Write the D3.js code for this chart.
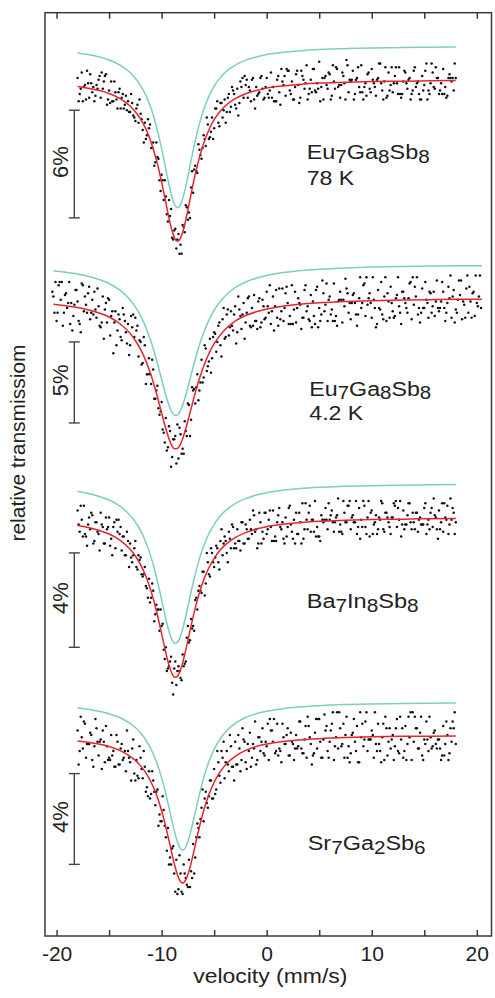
<!DOCTYPE html>
<html>
<head>
<meta charset="utf-8">
<script src="https://cdn.jsdelivr.net/npm/d3@7"></script>
<style>
  body { margin: 0; background: #fff; }
  svg { display: block; font-family: "Liberation Sans", Arial, Helvetica, sans-serif; }
</style>
</head>
<body>
<svg width="495" height="998"></svg>
<script>
// ---- data (relative transmission in %, velocity in mm/s) ----
var xTicks = [-20, -15, -10, -5, 0, 5, 10, 15, 20];
var xLabels = [-20, -10, 0, 10, 20];

var sampleNames = [
  [["Eu", 0], ["7", 1], ["Ga", 0], ["8", 1], ["Sb", 0], ["8", 1]],
  [["Eu", 0], ["7", 1], ["Ga", 0], ["8", 1], ["Sb", 0], ["8", 1]],
  [["Ba", 0], ["7", 1], ["In", 0], ["8", 1], ["Sb", 0], ["8", 1]],
  [["Sr", 0], ["7", 1], ["Ga", 0], ["2", 1], ["Sb", 0], ["6", 1]]
];
var temperatures = ["78 K", "4.2 K", "", ""];
var scaleBarPct = [6, 5, 4, 4];
var scaleBarTop = [98.3, 97.3, 98.5, 98.3];

// fitted curves
var fitVel = [-18,-17,-16,-15,-14,-13,-12.5,-12,-11.5,-11,-10.5,-10,-9.75,-9.5,-9.25,-9,-8.75,-8.5,-8.25,-8,
  -7.75,-7.5,-7.25,-7,-6.5,-6,-5.5,-5,-4.5,-4,-3,-2,-1,0,1.5,3,5,7.5,10,13,15.5,18];
var fitVel2 = [-20.3,-19,-18,-17,-16,-15,-14,-13,-12.5,-12,-11.5,-11,-10.5,-10,-9.75,-9.5,-9.25,-9,-8.75,-8.5,-8.25,-8,
  -7.75,-7.5,-7.25,-7,-6.5,-6,-5.5,-5,-4.5,-4,-3,-2,-1,0,1.5,3,5,7.5,10,13,15.5,18,20.5];

var fit78K = [99.62,99.53,99.41,99.23,98.96,98.53,98.21,97.80,97.26,96.52,95.54,94.30,93.59,92.86,92.16,91.57,
  91.16,91.00,91.12,91.49,92.06,92.74,93.47,94.19,95.45,96.45,97.20,97.77,98.19,98.51,98.94,99.22,99.40,99.53,
  99.65,99.73,99.81,99.86,99.90,99.92,99.94,99.95];
var fit42K = [99.62,99.52,99.42,99.29,99.10,98.84,98.44,97.83,97.39,96.84,96.13,95.24,94.15,92.92,92.30,91.72,
  91.23,90.87,90.70,90.72,90.93,91.32,91.83,92.42,93.05,93.67,94.83,95.80,96.58,97.19,97.66,98.04,98.58,98.93,
  99.16,99.33,99.51,99.62,99.72,99.80,99.85,99.89,99.91,99.93,99.94];
var fitBa = [99.66,99.58,99.46,99.30,99.05,98.65,98.37,98.00,97.51,96.87,96.05,95.08,94.57,94.08,93.67,93.37,
  93.23,93.27,93.48,93.84,94.29,94.79,95.30,95.79,96.66,97.35,97.87,98.27,98.58,98.82,99.15,99.36,99.51,99.61,
  99.71,99.78,99.84,99.88,99.91,99.93,99.95,99.96];
var fitSr = [99.74,99.68,99.60,99.49,99.32,99.06,98.88,98.64,98.33,97.92,97.38,96.66,96.23,95.75,95.25,94.73,
  94.25,93.85,93.58,93.48,93.58,93.85,94.25,94.73,95.75,96.66,97.38,97.92,98.33,98.64,99.06,99.32,99.49,99.60,
  99.71,99.78,99.84,99.89,99.92,99.94,99.95,99.96];

// measured points, channel velocities (two interleaved sets)
var dotVel = [-18,-17.8,-17.6,-17.4,-17.2,-17,-16.8,-16.6,-16.4,-16.2,
  -16,-15.8,-15.6,-15.4,-15.2,-15,-14.8,-14.6,-14.4,-14.2,
  -14,-13.8,-13.6,-13.4,-13.2,-13,-12.8,-12.6,-12.4,-12.2,
  -12,-11.8,-11.6,-11.4,-11.2,-11,-10.8,-10.6,-10.4,-10.2,
  -10,-9.8,-9.6,-9.4,-9.2,-9,-8.8,-8.6,-8.4,-8.2,
  -8,-7.8,-7.6,-7.4,-7.2,-7,-6.8,-6.6,-6.4,-6.2,
  -6,-5.8,-5.6,-5.4,-5.2,-5,-4.8,-4.6,-4.4,-4.2,
  -4,-3.8,-3.6,-3.4,-3.2,-3,-2.8,-2.6,-2.4,-2.2,
  -2,-1.8,-1.6,-1.4,-1.2,-1,-0.8,-0.6,-0.4,-0.2,
  0,0.2,0.4,0.6,0.8,1,1.2,1.4,1.6,1.8,
  2,2.2,2.4,2.6,2.8,3,3.2,3.4,3.6,3.8,
  4,4.2,4.4,4.6,4.8,5,5.2,5.4,5.6,5.8,
  6,6.2,6.4,6.6,6.8,7,7.2,7.4,7.6,7.8,
  8,8.2,8.4,8.6,8.8,9,9.2,9.4,9.6,9.8,
  10,10.2,10.4,10.6,10.8,11,11.2,11.4,11.6,11.8,
  12,12.2,12.4,12.6,12.8,13,13.2,13.4,13.6,13.8,
  14,14.2,14.4,14.6,14.8,15,15.2,15.4,15.6,15.8,
  16,16.2,16.4,16.6,16.8,17,17.2,17.4,17.6,17.8,
  18];
var dotVelB = [-17.9,-17.7,-17.5,-17.3,-17.1,-16.9,-16.7,-16.5,-16.3,-16.1,
  -15.9,-15.7,-15.5,-15.3,-15.1,-14.9,-14.7,-14.5,-14.3,-14.1,
  -13.9,-13.7,-13.5,-13.3,-13.1,-12.9,-12.7,-12.5,-12.3,-12.1,
  -11.9,-11.7,-11.5,-11.3,-11.1,-10.9,-10.7,-10.5,-10.3,-10.1,
  -9.9,-9.7,-9.5,-9.3,-9.1,-8.9,-8.7,-8.5,-8.3,-8.1,
  -7.9,-7.7,-7.5,-7.3,-7.1,-6.9,-6.7,-6.5,-6.3,-6.1,
  -5.9,-5.7,-5.5,-5.3,-5.1,-4.9,-4.7,-4.5,-4.3,-4.1,
  -3.9,-3.7,-3.5,-3.3,-3.1,-2.9,-2.7,-2.5,-2.3,-2.1,
  -1.9,-1.7,-1.5,-1.3,-1.1,-0.9,-0.7,-0.5,-0.3,-0.1,
  0.1,0.3,0.5,0.7,0.9,1.1,1.3,1.5,1.7,1.9,
  2.1,2.3,2.5,2.7,2.9,3.1,3.3,3.5,3.7,3.9,
  4.1,4.3,4.5,4.7,4.9,5.1,5.3,5.5,5.7,5.9,
  6.1,6.3,6.5,6.7,6.9,7.1,7.3,7.5,7.7,7.9,
  8.1,8.3,8.5,8.7,8.9,9.1,9.3,9.5,9.7,9.9,
  10.1,10.3,10.5,10.7,10.9,11.1,11.3,11.5,11.7,11.9,
  12.1,12.3,12.5,12.7,12.9,13.1,13.3,13.5,13.7,13.9,
  14.1,14.3,14.5,14.7,14.9,15.1,15.3,15.5,15.7,15.9,
  16.1,16.3,16.5,16.7,16.9,17.1,17.3,17.5,17.7,17.9];
var dotVel2 = [-20.4,-20.2,-20,-19.8,-19.6,-19.4,-19.2,-19,-18.8,-18.6,
  -18.4,-18.2,-18,-17.8,-17.6,-17.4,-17.2,-17,-16.8,-16.6,
  -16.4,-16.2,-16,-15.8,-15.6,-15.4,-15.2,-15,-14.8,-14.6,
  -14.4,-14.2,-14,-13.8,-13.6,-13.4,-13.2,-13,-12.8,-12.6,
  -12.4,-12.2,-12,-11.8,-11.6,-11.4,-11.2,-11,-10.8,-10.6,
  -10.4,-10.2,-10,-9.8,-9.6,-9.4,-9.2,-9,-8.8,-8.6,
  -8.4,-8.2,-8,-7.8,-7.6,-7.4,-7.2,-7,-6.8,-6.6,
  -6.4,-6.2,-6,-5.8,-5.6,-5.4,-5.2,-5,-4.8,-4.6,
  -4.4,-4.2,-4,-3.8,-3.6,-3.4,-3.2,-3,-2.8,-2.6,
  -2.4,-2.2,-2,-1.8,-1.6,-1.4,-1.2,-1,-0.8,-0.6,
  -0.4,-0.2,0,0.2,0.4,0.6,0.8,1,1.2,1.4,
  1.6,1.8,2,2.2,2.4,2.6,2.8,3,3.2,3.4,
  3.6,3.8,4,4.2,4.4,4.6,4.8,5,5.2,5.4,
  5.6,5.8,6,6.2,6.4,6.6,6.8,7,7.2,7.4,
  7.6,7.8,8,8.2,8.4,8.6,8.8,9,9.2,9.4,
  9.6,9.8,10,10.2,10.4,10.6,10.8,11,11.2,11.4,
  11.6,11.8,12,12.2,12.4,12.6,12.8,13,13.2,13.4,
  13.6,13.8,14,14.2,14.4,14.6,14.8,15,15.2,15.4,
  15.6,15.8,16,16.2,16.4,16.6,16.8,17,17.2,17.4,
  17.6,17.8,18,18.2,18.4,18.6,18.8,19,19.2,19.4,
  19.6,19.8,20,20.2,20.4];
var dotVel2B = [-20.3,-20.1,-19.9,-19.7,-19.5,-19.3,-19.1,-18.9,-18.7,-18.5,
  -18.3,-18.1,-17.9,-17.7,-17.5,-17.3,-17.1,-16.9,-16.7,-16.5,
  -16.3,-16.1,-15.9,-15.7,-15.5,-15.3,-15.1,-14.9,-14.7,-14.5,
  -14.3,-14.1,-13.9,-13.7,-13.5,-13.3,-13.1,-12.9,-12.7,-12.5,
  -12.3,-12.1,-11.9,-11.7,-11.5,-11.3,-11.1,-10.9,-10.7,-10.5,
  -10.3,-10.1,-9.9,-9.7,-9.5,-9.3,-9.1,-8.9,-8.7,-8.5,
  -8.3,-8.1,-7.9,-7.7,-7.5,-7.3,-7.1,-6.9,-6.7,-6.5,
  -6.3,-6.1,-5.9,-5.7,-5.5,-5.3,-5.1,-4.9,-4.7,-4.5,
  -4.3,-4.1,-3.9,-3.7,-3.5,-3.3,-3.1,-2.9,-2.7,-2.5,
  -2.3,-2.1,-1.9,-1.7,-1.5,-1.3,-1.1,-0.9,-0.7,-0.5,
  -0.3,-0.1,0.1,0.3,0.5,0.7,0.9,1.1,1.3,1.5,
  1.7,1.9,2.1,2.3,2.5,2.7,2.9,3.1,3.3,3.5,
  3.7,3.9,4.1,4.3,4.5,4.7,4.9,5.1,5.3,5.5,
  5.7,5.9,6.1,6.3,6.5,6.7,6.9,7.1,7.3,7.5,
  7.7,7.9,8.1,8.3,8.5,8.7,8.9,9.1,9.3,9.5,
  9.7,9.9,10.1,10.3,10.5,10.7,10.9,11.1,11.3,11.5,
  11.7,11.9,12.1,12.3,12.5,12.7,12.9,13.1,13.3,13.5,
  13.7,13.9,14.1,14.3,14.5,14.7,14.9,15.1,15.3,15.5,
  15.7,15.9,16.1,16.3,16.5,16.7,16.9,17.1,17.3,17.5,
  17.7,17.9,18.1,18.3,18.5,18.7,18.9,19.1,19.3,19.5,
  19.7,19.9,20.1,20.3];

var dots78K = [100.1,99.2,100.4,99.6,98.9,99.8,100.3,99.3,98.8,99.7,
  100.0,99.0,99.5,100.2,98.6,99.4,99.9,98.8,99.3,98.4,
  99.5,99.0,98.4,99.1,98.8,98.2,98.7,97.9,98.4,97.6,
  98.1,97.2,97.6,96.9,97.3,96.2,96.5,95.4,95.7,94.4,
  94.7,93.3,93.5,92.1,92.4,91.2,91.6,90.6,91.4,90.8,
  91.9,91.5,92.9,92.6,94.0,93.7,95.2,94.8,96.1,95.6,
  96.9,96.3,97.5,96.8,97.9,97.3,98.4,97.6,98.7,97.9,
  98.9,98.2,99.2,98.5,99.4,98.6,99.5,98.7,99.6,99.0,
  99.7,99.0,99.4,100.0,98.9,99.6,99.2,100.1,99.5,99.0,
  100.1,99.0,100.4,99.6,98.8,100.0,99.3,100.6,99.7,99.1,
  100.5,99.4,99.9,98.9,100.3,99.7,99.0,100.2,99.5,100.8,
  99.2,100.0,100.6,99.4,99.8,101.0,99.6,98.9,100.2,99.5,
  100.3,99.1,99.9,100.7,99.6,99.0,100.4,99.8,101.1,99.3,
  99.9,100.5,99.2,100.1,99.6,100.8,98.9,99.8,100.3,99.5,
  100.6,99.8,99.1,100.1,100.9,99.4,99.9,99.0,100.4,99.7,
  99.3,100.2,99.8,100.7,99.0,99.9,100.4,99.5,100.1,99.2,
  100.5,99.6,99.9,98.9,100.2,99.7,100.9,99.4,99.8,100.4,
  99.5,100.1,99.2,99.8,100.6,99.6,99.1,100.3,99.9,99.4,
  100.1];
var dots78Kb = [98.8,99.5,98.8,99.7,100.5,99.0,99.8,99.6,99.1,99.5,
  100.2,100.4,99.9,100.3,98.9,98.7,98.8,99.9,98.9,99.3,
  98.4,99.2,98.6,98.3,98.2,99.2,98.0,97.7,98.6,98.9,
  97.8,96.5,96.7,97.8,97.5,96.2,95.2,96.5,95.6,93.8,
  94.4,94.4,92.5,93.3,92.8,91.1,91.7,91.1,90.3,90.3,
  91.8,93.0,92.2,92.3,94.9,95.0,94.9,96.4,95.8,96.2,
  96.7,97.9,96.7,97.1,96.7,98.4,98.8,97.4,98.7,98.3,
  97.6,99.0,98.2,99.6,99.2,98.4,98.0,99.9,100.1,100.2,
  100.0,99.6,98.8,100.1,98.4,99.1,99.3,100.2,98.9,99.6,
  99.2,99.4,99.0,98.8,98.8,100.2,98.6,99.9,100.2,100.6,
  100.5,99.2,98.9,99.6,100.5,98.7,100.5,100.0,99.8,98.9,
  99.5,99.3,100.6,99.3,99.5,98.8,100.1,100.1,99.7,100.4,
  98.9,100.8,99.5,100.6,99.7,99.7,100.2,98.9,100.8,100.0,
  100.0,98.9,100.0,100.7,99.3,99.3,99.6,99.1,100.4,99.3,
  100.0,99.6,100.0,100.9,99.8,98.9,100.7,99.1,99.4,100.7,
  99.8,100.7,99.2,99.2,99.2,100.5,99.8,100.0,98.9,99.4,
  100.7,99.8,99.2,98.9,99.4,100.5,98.9,99.2,100.9,99.6,
  100.7,100.1,99.4,99.2,99.2,99.0,100.1,100.1,100.1,100.9];
var dots42K = [100.4,99.1,98.6,100.8,99.9,98.3,100.2,99.4,101.0,99.7,
  98.9,100.5,99.8,98.4,100.9,99.2,99.6,100.3,98.7,99.9,
  100.4,98.8,99.5,98.2,100.1,99.3,98.5,99.9,98.9,96.6,
  99.2,98.0,98.7,97.4,99.0,97.9,98.4,97.1,98.2,97.6,
  98.0,96.4,97.3,96.0,97.1,95.3,96.3,94.7,95.6,93.8,
  94.6,92.8,93.6,91.7,92.6,90.8,91.8,90.2,91.3,89.8,
  90.1,91.6,90.7,92.4,91.5,93.4,92.5,94.3,93.5,95.3,
  94.3,96.2,95.1,96.9,95.8,97.5,96.3,97.9,96.7,98.3,
  97.1,98.7,97.5,99.0,97.7,99.2,98.0,99.5,97.9,99.3,
  98.1,99.7,98.5,100.0,98.3,99.4,100.2,98.6,99.8,98.2,
  99.9,98.7,100.4,99.1,98.4,100.1,99.5,98.8,100.6,99.2,
  98.6,100.3,99.7,98.9,100.8,99.3,98.5,100.0,99.6,98.8,
  100.5,99.2,98.7,100.2,99.8,98.4,100.7,99.4,99.0,100.3,
  99.6,98.6,100.1,99.3,100.9,98.9,99.8,100.4,98.5,99.5,
  100.6,99.1,98.7,100.2,99.7,98.3,100.0,99.4,100.8,98.9,
  99.6,100.3,98.8,99.9,98.2,100.5,99.3,99.0,100.1,98.6,
  99.8,100.7,99.2,98.9,100.2,99.5,98.4,100.4,99.7,99.1,
  100.9,98.7,99.6,100.1,99.0,98.5,100.6,99.4,99.9,98.8,
  100.3,99.5,98.9,101.1,99.2,99.8,100.4,98.6,99.7,100.0,
  98.8,100.5,99.3,99.9,100.2,98.7,99.6,100.6,99.1,99.8,
  100.3,98.9,99.7,100.1,99.4];
var dots42Kb = [100.1,101.0,99.1,101.0,101.0,99.1,100.3,99.7,98.4,98.0,
  99.6,100.5,98.6,97.9,100.8,100.1,99.1,100.7,99.1,99.0,
  99.3,100.6,98.3,98.5,97.5,99.7,100.0,97.7,99.2,98.5,
  97.1,99.0,97.6,99.4,98.6,97.2,96.5,98.9,99.0,98.8,
  98.3,97.4,95.9,97.6,94.7,95.3,95.3,96.2,93.8,94.3,
  93.2,93.0,91.9,91.1,90.6,92.1,89.6,91.3,91.5,92.2,
  92.0,90.4,90.4,91.8,93.5,91.5,94.5,94.4,94.5,93.7,
  94.8,94.8,97.1,95.5,96.1,95.4,97.6,97.8,97.3,98.5,
  96.4,99.4,97.6,99.3,98.2,98.3,99.0,97.2,100.1,98.9,
  99.0,97.5,99.1,100.1,98.2,98.3,98.6,98.1,100.0,98.5,
  99.5,98.8,99.5,100.8,99.2,98.0,100.5,98.3,98.7,100.6,
  99.4,100.7,98.4,98.4,98.4,100.4,99.4,99.7,98.1,98.8,
  100.8,99.5,98.6,98.2,98.9,100.5,98.2,98.6,101.1,99.2,
  100.9,99.9,99.0,98.6,98.6,98.3,99.9,99.9,99.9,101.2,
  100.3,99.7,99.7,100.3,99.0,99.0,101.3,99.7,100.9,101.3,
  100.0,99.7,101.3,99.4,98.4,99.4,101.0,98.7,101.3,100.3,
  98.8,99.7,98.8,100.0,101.3,99.1,100.4,100.0,99.4,100.0,
  101.0,101.3,100.7,101.3,99.4,99.1,99.4,101.0,99.7,100.4,
  99.1,100.4,99.8,99.4,99.4,101.0,99.4,99.1,100.7,101.4,
  100.1,98.5,99.1,101.1,101.1,99.8,98.8,101.4,100.7,98.8,
  100.4,101.4,99.5,101.4];
var dotsBa = [100.3,99.4,99.9,100.5,99.2,99.7,99.5,100.1,99.0,99.8,
  99.3,100.2,99.6,98.9,99.5,100.0,99.1,99.6,98.7,99.4,
  99.3,98.6,99.2,98.4,99.0,98.9,98.1,98.7,97.9,98.4,
  98.3,97.5,97.9,97.0,97.4,96.6,96.9,95.9,96.1,95.2,
  95.4,94.4,94.5,93.6,93.9,93.0,93.6,92.9,93.7,93.2,
  94.2,93.8,94.9,94.7,95.7,95.4,96.5,96.1,97.1,96.8,
  97.7,97.2,98.1,97.5,98.5,97.9,98.8,98.1,99.0,98.4,
  99.2,98.5,99.4,98.7,99.6,98.9,99.5,99.0,99.8,98.9,
  99.7,99.1,99.9,99.3,100.1,99.5,98.9,99.8,99.4,100.2,
  99.3,99.9,99.6,100.3,99.2,99.8,100.4,99.5,99.1,100.0,
  99.6,100.5,99.4,99.9,100.2,99.3,99.8,100.6,99.5,99.9,
  100.2,99.4,99.9,100.7,99.6,99.2,100.1,99.8,100.4,99.5,
  99.9,100.3,99.4,100.0,100.8,99.7,99.3,100.2,99.8,100.5,
  99.5,100.1,99.8,99.3,100.4,99.9,100.7,99.6,100.0,99.2,
  100.3,99.7,100.1,99.5,99.9,100.6,99.4,100.2,99.8,99.3,
  100.0,100.5,99.6,99.9,99.2,100.3,99.7,100.1,100.6,99.5,
  99.8,100.2,99.4,100.0,99.7,100.4,99.3,99.9,100.2,99.6,
  100.1,99.5,100.3,99.8,99.4,100.0,100.5,99.7,99.9,100.2,
  99.8];
var dotsBab = [99.7,100.5,99.2,99.3,98.8,100.0,100.2,98.9,99.8,99.4,
  98.6,99.7,98.9,100.0,99.6,98.8,98.4,99.8,99.9,99.9,
  99.6,99.2,98.4,99.4,97.9,98.3,98.4,99.0,97.8,98.2,
  97.6,97.6,97.1,96.6,96.4,97.2,95.6,96.3,96.1,96.1,
  95.5,94.0,93.5,93.7,94.1,92.5,93.9,93.5,93.5,93.1,
  93.7,93.9,95.4,94.8,95.3,95.2,96.6,96.9,96.9,97.7,
  96.7,98.5,97.6,98.7,98.1,98.3,98.7,97.8,99.5,98.9,
  99.0,98.1,99.1,99.7,98.7,98.7,99.0,98.6,99.8,98.9,
  99.5,99.1,99.5,100.3,99.4,98.7,100.2,98.9,99.1,100.2,
  99.5,100.3,99.0,99.0,99.0,100.1,99.6,99.8,98.9,99.2,
  100.4,99.7,99.1,98.9,99.3,100.2,98.9,99.1,100.6,99.5,
  100.5,99.9,99.4,99.2,99.2,99.0,99.9,99.9,99.9,100.6,
  100.1,99.8,99.8,100.1,99.4,99.4,100.7,99.8,100.5,100.7,
  100.0,99.8,100.7,99.6,99.1,99.6,100.5,99.3,100.7,100.2,
  99.3,99.8,99.3,100.0,100.7,99.5,100.2,100.0,99.6,100.0,
  100.6,100.7,100.4,100.7,99.7,99.5,99.7,100.6,99.8,100.2,
  99.5,100.2,99.9,99.7,99.7,100.6,99.7,99.5,100.4,100.8,
  100.0,99.1,99.5,100.6,100.6,99.9,99.3,100.8,100.4,99.3];
var dotsSr = [100.2,99.3,99.9,100.6,99.0,99.6,100.1,98.9,99.5,100.3,
  99.1,99.8,100.2,98.8,99.5,99.0,100.0,99.3,98.6,99.7,
  98.7,99.6,99.0,98.4,99.3,98.8,99.4,98.3,98.9,98.1,
  99.0,98.1,98.6,97.7,98.4,97.4,98.0,96.9,97.6,96.5,
  96.2,96.7,95.5,95.9,94.6,95.0,93.9,94.5,93.2,93.9,
  93.0,93.9,93.4,94.5,94.0,95.2,94.6,96.1,95.5,96.8,
  96.2,97.5,96.8,98.0,97.2,98.5,97.6,98.8,97.9,99.0,
  98.1,99.3,98.4,99.5,98.6,99.7,98.7,99.4,98.9,99.8,
  98.8,99.6,100.1,99.0,99.4,98.7,99.9,99.3,100.3,99.1,
  99.5,98.9,100.2,99.7,99.2,100.5,99.4,98.8,99.9,99.6,
  100.3,99.1,99.7,98.9,100.0,99.5,100.6,99.2,99.8,99.0,
  100.4,99.6,99.1,100.1,99.4,100.7,99.0,99.8,100.2,99.3,
  99.7,100.5,98.9,99.9,99.4,100.3,99.6,99.0,100.8,99.5,
  99.2,100.1,99.7,100.4,98.8,99.9,99.5,100.6,99.3,99.8,
  100.2,99.0,99.6,100.5,99.3,99.9,98.9,100.3,99.7,99.4,
  100.0,99.5,100.7,99.2,99.8,99.0,100.4,99.6,99.9,98.9,
  99.7,100.3,99.4,100.1,99.1,99.8,100.6,99.3,99.9,99.5,
  100.2,99.4,99.8,98.9,100.4,99.6,100.0,99.2,99.7,100.3,
  99.6];
var dotsSrb = [98.7,100.8,99.4,100.5,99.6,99.6,100.0,98.6,100.7,99.7,
  99.7,98.5,99.7,100.4,98.9,98.9,99.1,98.6,100.0,98.7,
  99.4,98.9,99.3,100.2,99.0,98.0,99.8,98.0,98.2,99.5,
  98.5,99.3,97.5,97.3,97.2,98.4,97.5,97.5,96.0,96.2,
  97.3,96.0,94.9,94.3,94.3,95.1,93.1,93.0,94.7,93.1,
  94.3,93.7,93.3,93.3,93.7,93.9,95.5,95.9,96.3,97.6,
  97.2,97.0,97.3,98.0,97.2,97.4,99.3,98.2,99.3,99.7,
  98.8,98.7,100.0,98.6,98.0,98.7,100.0,98.4,100.3,99.7,
  98.5,99.3,98.6,99.6,100.6,98.9,99.9,99.7,99.2,99.7,
  100.5,100.7,100.2,100.7,99.3,99.1,99.3,100.5,99.6,100.0,
  99.1,100.1,99.6,99.4,99.4,100.6,99.4,99.2,100.4,100.8,
  99.9,98.7,99.2,100.7,100.7,99.7,99.0,100.9,100.4,99.0,
  100.2,101.0,99.5,101.0,101.0,99.5,100.5,100.0,99.0,98.8,
  100.0,100.7,99.3,98.8,101.0,100.5,99.8,101.0,99.8,99.8,
  100.0,101.0,99.3,99.6,98.8,100.5,100.8,99.1,100.3,99.8,
  98.9,100.3,99.3,100.8,100.3,99.3,98.9,100.8,101.0,101.0,
  100.8,100.3,99.4,100.8,98.9,99.6,99.8,100.8,99.4,100.1,
  99.6,99.8,99.4,99.1,99.1,100.6,98.9,100.3,100.6,101.0];

// ---- layout ----
var svg = d3.select("svg");
var frame = {left: 45, right: 491.5, top: 12.7, bottom: 936};
var red = "#e3262b", teal = "#7fcebd", ink = "#222", axisCol = "#3a3a3a";

// per panel: pixel of 100 %, pixels per %, shift of the component curve, label spot
var layout = [
  {base: 79.7,  k: 17.95, shift: 1.87, lx: 306.7, ly: 159.3, lw: 123, ty: 184.5},
  {base: 298.2, k: 16.2,  shift: 2.07, lx: 309.3, ly: 395.5, lw: 122, ty: 419.5},
  {base: 517.5, k: 23.6,  shift: 1.44, lx: 306.7, ly: 608.3, lw: 112},
  {base: 735.0, k: 22.7,  shift: 1.45, lx: 307.7, ly: 850,   lw: 118}
];
var panels = [
  {fitV: fitVel,  fit: fit78K, sets: [[dotVel, dots78K], [dotVelB, dots78Kb]]},
  {fitV: fitVel2, fit: fit42K, sets: [[dotVel2, dots42K], [dotVel2B, dots42Kb]]},
  {fitV: fitVel,  fit: fitBa,  sets: [[dotVel, dotsBa], [dotVelB, dotsBab]]},
  {fitV: fitVel,  fit: fitSr,  sets: [[dotVel, dotsSr], [dotVelB, dotsSrb]]}
];

var x = d3.scaleLinear().domain([-21.1, 21.4]).range([frame.left, frame.right]);

panels.forEach(function(p, i) {
  var L = layout[i];
  var y = d3.scaleLinear().domain([100, 90]).range([L.base, L.base + 10 * L.k]);
  var g = svg.append("g").attr("class", "panel");

  var line = d3.line()
    .x(function(d) { return x(d[0]); })
    .y(function(d) { return y(d[1]); })
    .curve(d3.curveMonotoneX);

  var fitPts = d3.zip(p.fitV, p.fit);

  // component curve, displaced upward
  g.append("path")
    .attr("d", line(fitPts.map(function(d) { return [d[0], d[1] + L.shift]; })))
    .attr("fill", "none").attr("stroke", teal).attr("stroke-width", 1.5);

  var pts = [];
  p.sets.forEach(function(s) { pts = pts.concat(d3.zip(s[0], s[1])); });
  g.selectAll("circle")
    .data(pts)
    .enter().append("circle")
    .attr("cx", function(d) { return x(d[0]); })
    .attr("cy", function(d) { return y(d[1]); })
    .attr("r", 1.25)
    .attr("fill", "#111");

  g.append("path")
    .attr("d", line(fitPts))
    .attr("fill", "none").attr("stroke", red).attr("stroke-width", 1.5);

  // scale bar
  var bx = 74.3, y1 = y(scaleBarTop[i]), y2 = y(scaleBarTop[i] - scaleBarPct[i]);
  var bar = g.append("g").attr("stroke", "#444").attr("stroke-width", 1.4);
  bar.append("line").attr("x1", bx).attr("x2", bx).attr("y1", y1).attr("y2", y2);
  bar.append("line").attr("x1", bx - 5.5).attr("x2", bx + 5.5).attr("y1", y1).attr("y2", y1);
  bar.append("line").attr("x1", bx - 5.5).attr("x2", bx + 5.5).attr("y1", y2).attr("y2", y2);
  g.append("text")
    .attr("transform", "translate(60," + ((y1 + y2) / 2 - 2) + ") rotate(-90)")
    .attr("text-anchor", "middle").attr("dominant-baseline", "central")
    .attr("font-size", 22).attr("fill", ink)
    .text(scaleBarPct[i] + "%");

  // sample name with subscripts
  var lg = g.append("g");
  var t = lg.append("text").attr("font-size", 21).attr("fill", ink);
  var shifted = false;
  sampleNames[i].forEach(function(part) {
    var ts = t.append("tspan").text(part[0]);
    if (part[1]) { ts.attr("font-size", 18.5).attr("dy", shifted ? 0 : 3.5); shifted = true; }
    else if (shifted) { ts.attr("dy", -3.5); shifted = false; }
  });
  var sx = L.lw / t.node().getComputedTextLength();
  lg.attr("transform", "translate(" + L.lx + "," + L.ly + ") scale(" + sx + ",1)");
  if (temperatures[i]) {
    g.append("text")
      .attr("transform", "translate(" + L.lx + "," + L.ty + ") scale(1.1,1)")
      .attr("font-size", 21).attr("fill", ink)
      .text(temperatures[i]);
  }
});

// ---- frame and axes ----
svg.append("rect")
  .attr("x", frame.left).attr("y", frame.top)
  .attr("width", frame.right - frame.left).attr("height", frame.bottom - frame.top)
  .attr("fill", "none").attr("stroke", axisCol).attr("stroke-width", 1.5);

var bottomAxis = d3.axisBottom(x)
  .tickValues(xTicks)
  .tickSize(-6)
  .tickPadding(10)
  .tickFormat(function(d) { return xLabels.indexOf(d) >= 0 ? String(d) : ""; });

var gb = svg.append("g")
  .attr("transform", "translate(0," + frame.bottom + ")")
  .call(bottomAxis);
gb.select(".domain").remove();
gb.selectAll("line").attr("stroke", axisCol).attr("stroke-width", 1.5);
gb.selectAll("text").attr("font-size", 21).attr("fill", ink)
  .attr("font-family", "'Liberation Sans', Arial, sans-serif");

var gt = svg.append("g")
  .attr("transform", "translate(0," + frame.top + ")")
  .call(d3.axisTop(x).tickValues(xTicks).tickSize(-6).tickFormat(""));
gt.select(".domain").remove();
gt.selectAll("line").attr("stroke", axisCol).attr("stroke-width", 1.5);

svg.append("text")
  .attr("transform", "translate(270.3,983) scale(1.12,1)")
  .attr("text-anchor", "middle")
  .attr("font-size", 20.5).attr("fill", ink)
  .text("velocity (mm/s)");

svg.append("text")
  .attr("transform", "translate(17,443) rotate(-90)")
  .attr("text-anchor", "middle").attr("dominant-baseline", "central")
  .attr("font-size", 21).attr("fill", ink)
  .text("relative transmissiom");
</script>
</body>
</html>
